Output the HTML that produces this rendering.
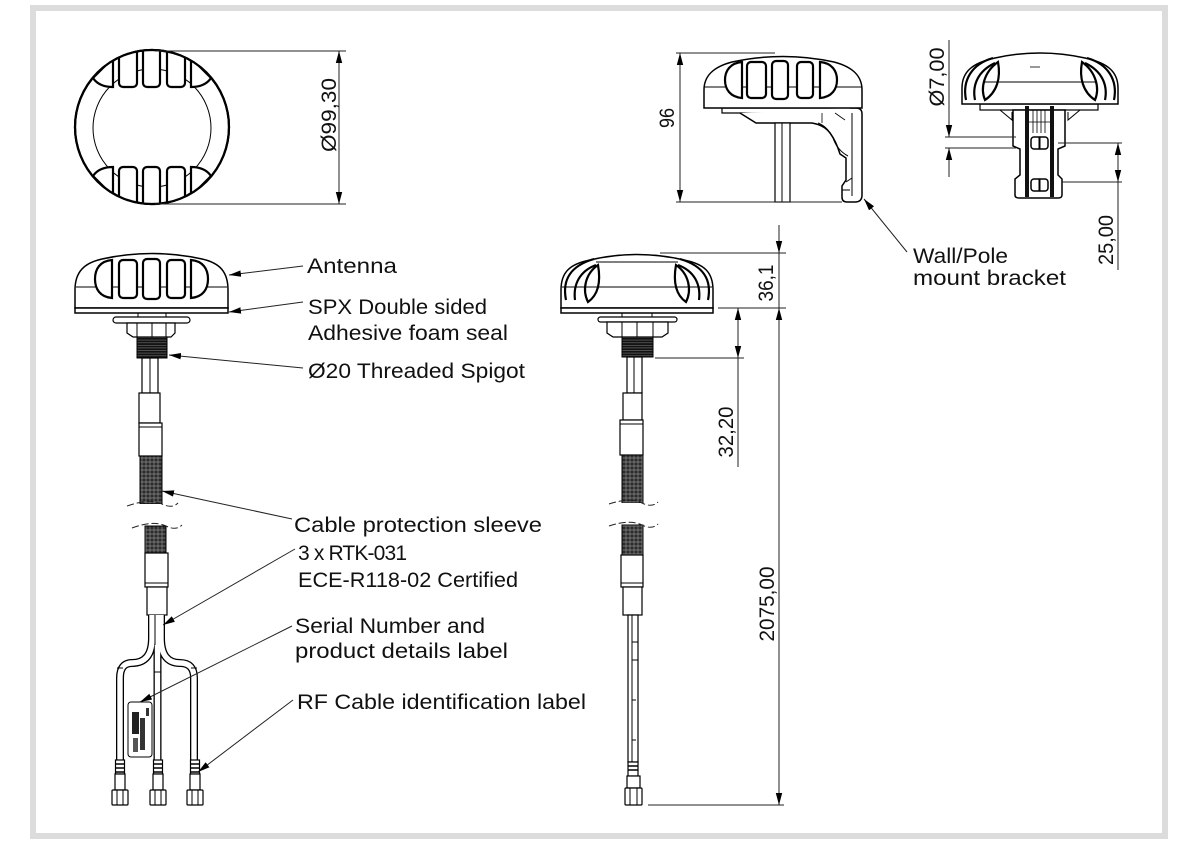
<!DOCTYPE html>
<html><head><meta charset="utf-8"><style>
html,body{margin:0;padding:0;background:#fff;}
svg{display:block;}
text{font-family:"Liberation Sans",sans-serif;fill:#111;}
</style></head><body>
<svg width="1200" height="845" viewBox="0 0 1200 845" xmlns="http://www.w3.org/2000/svg">
<defs>
<marker id="a" markerWidth="13" markerHeight="8" refX="12" refY="4" orient="auto-start-reverse" markerUnits="userSpaceOnUse"><path d="M0,0.8 L12,4 L0,7.2 z" fill="#000"/></marker>
<pattern id="br" width="4" height="4" patternUnits="userSpaceOnUse"><rect width="4" height="4" fill="#2b2b2b"/><path d="M0,2 H4 M2,0 V4" stroke="#8a8a8a" stroke-width="0.7"/></pattern>
<pattern id="th" width="4" height="2.6" patternUnits="userSpaceOnUse"><rect width="4" height="2.6" fill="#111"/><rect y="1.8" width="4" height="0.6" fill="#777"/></pattern>
<clipPath id="cc"><circle cx="152" cy="127" r="77"/></clipPath>
<g id="cn" stroke="#000" fill="#fff" stroke-width="1.2">
 <rect x="-4.5" y="760" width="9" height="14"/>
 <path d="M-4.5,764 H4.5 M-4.5,768 H4.5 M-4.5,772 H4.5" stroke-width="1.6"/>
 <rect x="-5" y="774" width="10" height="16"/>
 <rect x="-8" y="790" width="16" height="15" rx="1"/>
 <path d="M-3,790 V805 M3,790 V805" stroke-width="1"/>
</g>
</defs>

<!-- frame -->
<rect x="33" y="8" width="1132" height="828" fill="none" stroke="#dcdcdc" stroke-width="6"/>

<!-- ===== TOP VIEW CIRCLE ===== -->
<g stroke="#000" fill="#fff">
<circle cx="152" cy="127" r="77" stroke-width="2.2"/>
<circle cx="152" cy="128" r="59" stroke-width="1"/>
<g clip-path="url(#cc)" stroke-width="2.2">
 <g id="tvs">
  <path d="M113,58 V87 C104,87 97,84 93,78 L113,58 Z"/>
  <rect x="119" y="46" width="18" height="41" rx="4"/>
  <rect x="143" y="44" width="17" height="43" rx="4"/>
  <rect x="167" y="46" width="18" height="41" rx="4"/>
  <path d="M191,58 V87 C200,87 207,84 211,78 L191,58 Z"/>
 </g>
 <use href="#tvs" transform="translate(0,254) scale(1,-1)"/>
</g>
<circle cx="152" cy="127" r="77" stroke-width="2.2" fill="none"/>
</g>
<g stroke="#222" stroke-width="1" fill="none">
<line x1="155" y1="51" x2="346" y2="51"/>
<line x1="155" y1="204" x2="346" y2="204"/>
<line x1="339" y1="51" x2="339" y2="204" marker-start="url(#a)" marker-end="url(#a)"/>
</g>
<text font-size="21" text-anchor="middle" transform="translate(336,115) rotate(-90)" textLength="74" lengthAdjust="spacingAndGlyphs">Ø99,30</text>

<!-- ===== SIDE VIEW ===== -->
<g stroke="#000" fill="#fff">
<path d="M722,108 H858 V113 H722 Z" stroke-width="1.2"/>
<path d="M740,113 L756,123 H812 Q824,125 830,133 Q836,141 840,154 L846,158 V180 L842,186 V197 Q842,202 847,202 H855 Q862,202 862,195 V114 Q862,108 856,108 H850" stroke-width="1.5"/>
<path d="M818,123 Q828,127 833,138 Q837,150 848,156" fill="none" stroke-width="1"/>
<path d="M852,113 V196 M846,182 L852,178 M842,190 H850" fill="none" stroke-width="1"/>
<path d="M822,113 V123 M835,113 L845,120" fill="none" stroke-width="0.8"/>
<rect x="775" y="123" width="15" height="79" stroke-width="1.2"/>
<line x1="782" y1="123" x2="782" y2="202" stroke-width="1"/>
<path d="M704,108 V90 C704,76 713,67 732,62 Q783,51 834,62 C853,67 862,76 862,90 V108 Z" stroke-width="1.5"/>
<line x1="704" y1="87" x2="862" y2="87" stroke-width="1"/>
<g stroke-width="2.2">
<path d="M742,62 V98 C730,97 725,89 725,80 C725,71 730,63 742,62 Z"/>
<rect x="747" y="62" width="19" height="36" rx="4"/>
<rect x="772" y="61" width="16" height="38" rx="4"/>
<rect x="797" y="62" width="16" height="36" rx="4"/>
<path d="M820,62 V98 C832,97 837,89 837,80 C837,71 832,63 820,62 Z"/>
</g>
</g>
<g stroke="#222" stroke-width="1" fill="none">
<line x1="676" y1="53" x2="775" y2="53"/>
<line x1="676" y1="202" x2="842" y2="202"/>
<line x1="680" y1="53" x2="680" y2="202" marker-start="url(#a)" marker-end="url(#a)"/>
<line x1="907" y1="252" x2="864" y2="199" marker-end="url(#a)"/>
</g>
<text font-size="21" text-anchor="middle" transform="translate(674,118) rotate(-90)" textLength="20" lengthAdjust="spacingAndGlyphs">96</text>
<text x="913" y="263" font-size="21" textLength="95" lengthAdjust="spacingAndGlyphs">Wall/Pole</text>
<text x="913" y="285" font-size="21" textLength="153" lengthAdjust="spacingAndGlyphs">mount bracket</text>

<!-- ===== FRONT VIEW ===== -->
<g stroke="#000" fill="#fff">
<rect x="980" y="104" width="118" height="6" stroke-width="1.2"/>
<path d="M1000,110 L1012,120 V112 M1080,110 L1068,120 V112" fill="none" stroke-width="1"/>
<path d="M1013,110 V146 L1020,149 V175 L1015,179 V195 Q1015,198 1019,198 H1058 Q1062,198 1062,195 V179 L1058,175 V149 L1065,146 V110 Z" stroke-width="1.5"/>
<rect x="1025" y="106" width="4" height="91" fill="#111" stroke="none"/>
<rect x="1050" y="106" width="4" height="91" fill="#111" stroke="none"/>
<path d="M1033,110 V133 M1037,110 V133 M1041,110 V133 M1045,110 V133 M1029,122 H1050" fill="none" stroke-width="0.8"/>
<rect x="1031" y="137" width="17" height="12" rx="3" stroke-width="1.5"/>
<line x1="1039.5" y1="137" x2="1039.5" y2="149" stroke-width="2"/>
<rect x="1031" y="179" width="17" height="12" rx="3" stroke-width="1.5"/>
<line x1="1039.5" y1="179" x2="1039.5" y2="191" stroke-width="2"/>
<path d="M962,104 V88 C962,72 972,63 995,58 Q1040,48 1085,58 C1108,63 1118,72 1118,88 V104 Z" stroke-width="1.5"/>
<line x1="984" y1="82" x2="1097" y2="82" stroke-width="1"/>
<line x1="1030" y1="67" x2="1040" y2="67" stroke-width="0.8"/>
<g fill="none" stroke-width="2.2">
<path d="M966,100 C962,80 972,64 993,58"/>
<path d="M975,100 C972,85 978,71 995,63"/>
<path d="M985,100 C980,88 984,72 998,62 C1001,78 997,92 985,100 Z"/>
<path d="M1114,100 C1118,80 1108,64 1087,58"/>
<path d="M1105,100 C1108,85 1102,71 1085,63"/>
<path d="M1095,100 C1100,88 1096,72 1082,62 C1079,78 1083,92 1095,100 Z"/>
</g>
</g>
<g stroke="#222" stroke-width="1" fill="none">
<line x1="945" y1="137" x2="1016" y2="137"/>
<line x1="945" y1="148" x2="1016" y2="148"/>
<line x1="949" y1="40" x2="949" y2="137" marker-end="url(#a)"/>
<line x1="949" y1="177" x2="949" y2="148" marker-end="url(#a)"/>
<line x1="1058" y1="143" x2="1122" y2="143"/>
<line x1="1062" y1="182" x2="1122" y2="182"/>
<line x1="1118" y1="143" x2="1118" y2="182" marker-start="url(#a)" marker-end="url(#a)"/>
<line x1="1118" y1="182" x2="1118" y2="270"/>
</g>
<text font-size="21" text-anchor="middle" transform="translate(944,77) rotate(-90)" textLength="59" lengthAdjust="spacingAndGlyphs">Ø7,00</text>
<text font-size="21" text-anchor="middle" transform="translate(1113,240) rotate(-90)" textLength="50" lengthAdjust="spacingAndGlyphs">25,00</text>

<!-- ===== LEFT ASSEMBLY ===== -->
<g stroke="#000" fill="#fff">
<rect x="138" y="313" width="28" height="4" stroke-width="1"/>
<rect x="113" y="317" width="77" height="6" rx="3" stroke-width="1.2"/>
<path d="M127,323 V333 L133,337 H171 L175,333 V323 Z" stroke-width="1.2"/>
<path d="M137,323 V337 M152,323 V337 M166,323 V337" stroke-width="1"/>
<rect x="137" y="337" width="30" height="21" fill="url(#th)" stroke-width="1"/>
<rect x="142" y="358" width="16" height="35" stroke-width="1.2"/>
<line x1="150" y1="358" x2="150" y2="393" stroke-width="1"/>
<rect x="139" y="393" width="21" height="30" stroke-width="1.2"/>
<rect x="139" y="423" width="23" height="33" stroke-width="1.2"/>
<line x1="139" y1="427" x2="162" y2="427" stroke-width="1"/>
<rect x="140" y="456" width="22" height="48" fill="url(#br)" stroke-width="1"/>
<rect x="145" y="526" width="21" height="27" fill="url(#br)" stroke-width="1"/>
<rect x="145" y="553" width="23" height="34" stroke-width="1.2"/>
<line x1="145" y1="583" x2="168" y2="583" stroke-width="1"/>
<rect x="147" y="587" width="20" height="28" stroke-width="1.2"/>
</g>
<rect x="120" y="504" width="70" height="21" fill="#fff"/>
<g fill="none" stroke="#222" stroke-width="1" stroke-dasharray="7,3">
<path d="M127,506 Q150,498 162,504 Q172,509 178,503"/>
<path d="M132,528 Q153,520 166,526 Q176,531 182,525"/>
</g>
<!-- cables -->
<g fill="none" stroke="#000" stroke-width="8">
<path d="M152,615 V638 Q152,663 132,663 Q120,663 120,678 V762"/>
<path d="M157.5,615 V762"/>
<path d="M161,615 V638 Q161,663 180,663 Q194,663 194,678 V762"/>
</g>
<g fill="none" stroke="#fff" stroke-width="5.4">
<path d="M152,615 V638 Q152,663 132,663 Q120,663 120,678 V762"/>
<path d="M157.5,615 V762"/>
<path d="M161,615 V638 Q161,663 180,663 Q194,663 194,678 V762"/>
</g>
<line x1="155" y1="615" x2="155" y2="645" stroke="#000" stroke-width="1"/>
<g stroke="#000" stroke-width="1">
<line x1="117" y1="668" x2="123" y2="668"/><line x1="191" y1="668" x2="197" y2="668"/>
<line x1="154" y1="672" x2="161" y2="672"/>
</g>
<!-- label -->
<rect x="128" y="702" width="24" height="55" rx="3" fill="#fff" stroke="#000" stroke-width="1"/>
<rect x="132" y="712" width="7" height="22" fill="#222"/>
<rect x="140" y="718" width="5" height="32" fill="#333"/>
<rect x="133" y="738" width="5" height="14" fill="#555"/>
<rect x="146" y="708" width="3" height="8" fill="#333"/>
<!-- connectors -->
<use href="#cn" transform="translate(120,0)"/>
<use href="#cn" transform="translate(158,0)"/>
<use href="#cn" transform="translate(195,0)"/>
<!-- dome left -->
<g stroke="#000" fill="#fff">
<path d="M75,308 V290 C75,272 84,263 102,259 Q152,248 202,259 C220,263 228,272 228,290 V308 Z" stroke-width="1.5"/>
<line x1="76" y1="287" x2="227" y2="287" stroke-width="1"/>
<rect x="75" y="308" width="153" height="5" stroke-width="1.5"/>
<g stroke-width="2.2">
<path d="M112,260 V298 C100,297 95,289 95,279 C95,269 100,261 112,260 Z"/>
<rect x="119" y="260" width="18" height="38" rx="4"/>
<rect x="143" y="259" width="17" height="40" rx="4"/>
<rect x="167" y="260" width="18" height="38" rx="4"/>
<path d="M191,260 V298 C203,297 208,289 208,279 C208,269 203,261 191,260 Z"/>
</g>
</g>
<!-- leaders -->
<g stroke="#222" stroke-width="1" fill="none">
<line x1="303" y1="266" x2="229" y2="275" marker-end="url(#a)"/>
<line x1="303" y1="302" x2="229" y2="312" marker-end="url(#a)"/>
<line x1="303" y1="368" x2="169" y2="355" marker-end="url(#a)"/>
<line x1="292" y1="519" x2="162" y2="491" marker-end="url(#a)"/>
<line x1="295" y1="549" x2="163" y2="625" marker-end="url(#a)"/>
<line x1="292" y1="626" x2="140" y2="702" marker-end="url(#a)"/>
<line x1="293" y1="700" x2="198" y2="772" marker-end="url(#a)"/>
</g>
<g font-size="21">
<text x="307" y="273" textLength="90" lengthAdjust="spacingAndGlyphs">Antenna</text>
<text x="308" y="314" textLength="179" lengthAdjust="spacingAndGlyphs">SPX Double sided</text>
<text x="308" y="340" textLength="200" lengthAdjust="spacingAndGlyphs">Adhesive foam seal</text>
<text x="308" y="378" textLength="217" lengthAdjust="spacingAndGlyphs">Ø20 Threaded Spigot</text>
<text x="294" y="532" textLength="248" lengthAdjust="spacingAndGlyphs">Cable protection sleeve</text>
<text x="298" y="560" textLength="109" lengthAdjust="spacing">3 x RTK-031</text>
<text x="298" y="587" textLength="220" lengthAdjust="spacingAndGlyphs">ECE-R118-02 Certified</text>
<text x="295" y="633" textLength="190" lengthAdjust="spacingAndGlyphs">Serial Number and</text>
<text x="295" y="658" textLength="213" lengthAdjust="spacingAndGlyphs">product details label</text>
<text x="297" y="709" textLength="289" lengthAdjust="spacingAndGlyphs">RF Cable identification label</text>
</g>

<!-- ===== RIGHT ASSEMBLY ===== -->
<g stroke="#000" fill="#fff">
<rect x="622" y="313" width="30" height="4" stroke-width="1"/>
<rect x="598" y="317" width="79" height="5" rx="2.5" stroke-width="1.2"/>
<path d="M607,322 V333 L613,337 H662 L668,333 V322 Z" stroke-width="1.2"/>
<path d="M622,322 V337 M637,322 V337 M653,322 V337" stroke-width="1"/>
<rect x="622" y="337" width="31" height="20" fill="url(#th)" stroke-width="1"/>
<rect x="627" y="357" width="15" height="36" stroke-width="1.2"/>
<line x1="634" y1="357" x2="634" y2="393" stroke-width="1"/>
<rect x="623" y="393" width="19" height="27" stroke-width="1.2"/>
<rect x="620" y="420" width="23" height="35" stroke-width="1.2"/>
<line x1="620" y1="424" x2="643" y2="424" stroke-width="1"/>
<rect x="622" y="455" width="21" height="48" fill="url(#br)" stroke-width="1"/>
<rect x="622" y="525" width="21" height="30" fill="url(#br)" stroke-width="1"/>
<rect x="621" y="555" width="22" height="32" stroke-width="1.2"/>
<line x1="621" y1="583" x2="643" y2="583" stroke-width="1"/>
<rect x="623" y="587" width="19" height="28" stroke-width="1.2"/>
<rect x="628" y="615" width="10" height="147" stroke-width="1.2"/>
<line x1="632" y1="615" x2="632" y2="762" stroke-width="1"/>
<path d="M632,642 H638 M632,660 H638 M632,700 H636 M632,740 H636" stroke-width="1"/>
<rect x="628" y="762" width="10" height="14" stroke-width="1.2"/>
<path d="M628,766 H638 M628,770 H638" stroke-width="1.5"/>
<rect x="627" y="776" width="13" height="12" stroke-width="1.2"/>
<rect x="625" y="788" width="17" height="17" rx="1" stroke-width="1.2"/>
<path d="M630,788 V805 M637,788 V805" stroke-width="1"/>
</g>
<rect x="600" y="503" width="70" height="21" fill="#fff"/>
<g fill="none" stroke="#222" stroke-width="1" stroke-dasharray="7,3">
<path d="M609,504 Q630,497 642,503 Q652,508 658,502"/>
<path d="M609,526 Q630,519 642,525 Q652,530 658,524"/>
</g>
<g stroke="#000" fill="#fff">
<path d="M561,308 V290 C561,272 570,264 590,260 Q637,249 684,260 C704,264 713,272 713,290 V308 Z" stroke-width="1.5"/>
<line x1="562" y1="287" x2="712" y2="287" stroke-width="1"/>
<line x1="596" y1="262" x2="678" y2="262" stroke-width="1"/>
<rect x="561" y="308" width="152" height="5" stroke-width="1.5"/>
<g fill="none" stroke-width="2.2">
<path d="M566,300 C562,280 570,266 594,259"/>
<path d="M575,300 C573,284 580,271 596,265"/>
<path d="M588,302 C582,290 585,274 598,265 C601,282 598,295 588,302 Z"/>
<path d="M708,300 C712,280 704,266 680,259"/>
<path d="M699,300 C701,284 694,271 678,265"/>
<path d="M686,302 C692,290 689,274 676,265 C673,282 676,295 686,302 Z"/>
</g>
</g>
<g stroke="#222" stroke-width="1" fill="none">
<line x1="660" y1="253" x2="786" y2="253"/>
<line x1="718" y1="308" x2="786" y2="308"/>
<line x1="655" y1="358" x2="744" y2="358"/>
<line x1="648" y1="805" x2="784" y2="805"/>
<line x1="779" y1="225" x2="779" y2="253" marker-end="url(#a)"/>
<line x1="779" y1="253" x2="779" y2="308"/>
<line x1="779" y1="340" x2="779" y2="308" marker-end="url(#a)"/>
<line x1="779" y1="340" x2="779" y2="805" marker-end="url(#a)"/>
<line x1="738" y1="308" x2="738" y2="358" marker-start="url(#a)" marker-end="url(#a)"/>
<line x1="738" y1="358" x2="738" y2="467"/>
</g>
<text font-size="21" text-anchor="middle" transform="translate(773,283) rotate(-90)" textLength="37" lengthAdjust="spacingAndGlyphs">36,1</text>
<text font-size="21" text-anchor="middle" transform="translate(733,432) rotate(-90)" textLength="51" lengthAdjust="spacingAndGlyphs">32,20</text>
<text font-size="21" text-anchor="middle" transform="translate(774,604) rotate(-90)" textLength="75" lengthAdjust="spacingAndGlyphs">2075,00</text>
</svg>
</body></html>
